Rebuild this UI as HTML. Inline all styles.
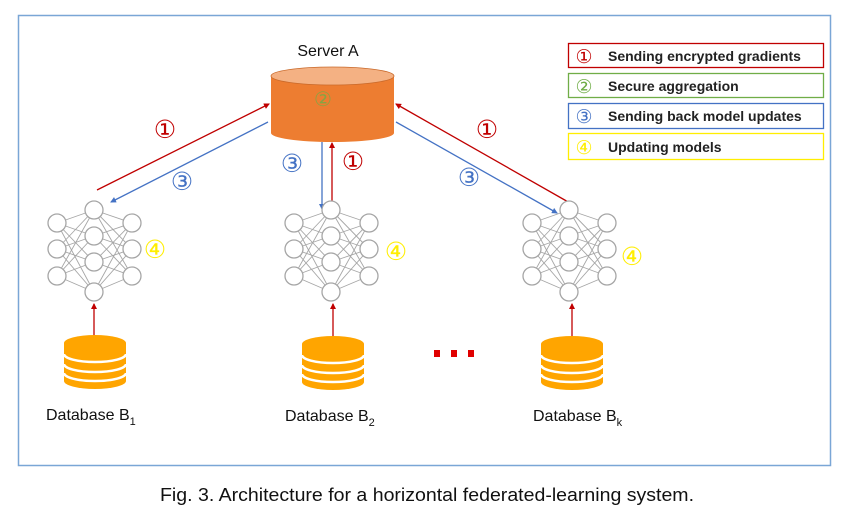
<!DOCTYPE html>
<html><head><meta charset="utf-8"><style>
html,body{margin:0;padding:0;background:#fff;}
svg{display:block;}
text{font-family:"Liberation Sans","DejaVu Sans",sans-serif;}
</style></head><body>
<svg width="849" height="509" viewBox="0 0 849 509" xmlns="http://www.w3.org/2000/svg">
<defs>
<marker id="ar" markerWidth="6" markerHeight="6" refX="5" refY="3" orient="auto" markerUnits="userSpaceOnUse"><path d="M0,0 L6,3 L0,6 z" fill="#c00000"/></marker>
<marker id="ab" markerWidth="6" markerHeight="6" refX="5" refY="3" orient="auto" markerUnits="userSpaceOnUse"><path d="M0,0 L6,3 L0,6 z" fill="#4472c4"/></marker>
<g id="net" stroke="#a6a6a6" stroke-width="1.3" fill="none">
<g stroke-width="0.9">
<path d="M-37,-36 L0,-49 M-37,-36 L0,-23 M-37,-36 L0,3 M-37,-36 L0,33
M-37,-10 L0,-49 M-37,-10 L0,-23 M-37,-10 L0,3 M-37,-10 L0,33
M-37,17 L0,-49 M-37,17 L0,-23 M-37,17 L0,3 M-37,17 L0,33
M38,-36 L0,-49 M38,-36 L0,-23 M38,-36 L0,3 M38,-36 L0,33
M38,-10 L0,-49 M38,-10 L0,-23 M38,-10 L0,3 M38,-10 L0,33
M38,17 L0,-49 M38,17 L0,-23 M38,17 L0,3 M38,17 L0,33"/>
</g>
<g fill="#fff">
<circle cx="0" cy="-49" r="9"/><circle cx="0" cy="-23" r="9"/><circle cx="0" cy="3" r="9"/><circle cx="0" cy="33" r="9"/>
<circle cx="-37" cy="-36" r="9"/><circle cx="-37" cy="-10" r="9"/><circle cx="-37" cy="17" r="9"/>
<circle cx="38" cy="-36" r="9"/><circle cx="38" cy="-10" r="9"/><circle cx="38" cy="17" r="9"/>
</g>
</g>
<g id="db">
<path d="M-31,-22 L-31,16 A31,8 0 0 0 31,16 L31,-22 z" fill="#ffa500"/>
<ellipse cx="0" cy="-22" rx="31" ry="8" fill="#ffa500"/>
<path d="M-31,-11 A31,8 0 0 0 31,-11 M-31,-1 A31,8 0 0 0 31,-1 M-31,8 A31,8 0 0 0 31,8" stroke="#fff" stroke-width="2.5" fill="none"/>
</g>
</defs>
<rect x="18.5" y="15.5" width="812" height="450" fill="none" stroke="#7aa6d6" stroke-width="1.5"/>

<text x="328" y="56" font-size="16" text-anchor="middle" fill="#111">Server A</text>
<path d="M271,76 L271,133 A61.5,9 0 0 0 394,133 L394,76 z" fill="#ed7d31"/>
<ellipse cx="332.5" cy="76" rx="61.5" ry="9" fill="#f4b183" stroke="#c9692a" stroke-width="0.8"/>
<text x="323" y="106" font-size="20" text-anchor="middle" fill="#70ad47" opacity="0.8">②</text>

<line x1="97" y1="190" x2="269" y2="104" stroke="#c00000" stroke-width="1.3" marker-end="url(#ar)"/>
<line x1="268" y1="122" x2="111" y2="202" stroke="#4472c4" stroke-width="1.3" marker-end="url(#ab)"/>
<line x1="322" y1="142" x2="322" y2="209" stroke="#4472c4" stroke-width="1.3" marker-end="url(#ab)"/>
<line x1="332" y1="207" x2="332" y2="143" stroke="#c00000" stroke-width="1.3" marker-end="url(#ar)"/>
<line x1="570" y1="203" x2="396" y2="104" stroke="#c00000" stroke-width="1.3" marker-end="url(#ar)"/>
<line x1="396" y1="122" x2="557" y2="213" stroke="#4472c4" stroke-width="1.3" marker-end="url(#ab)"/>
<line x1="94" y1="340" x2="94" y2="304" stroke="#c00000" stroke-width="1.3" marker-end="url(#ar)"/>
<line x1="333" y1="340" x2="333" y2="304" stroke="#c00000" stroke-width="1.3" marker-end="url(#ar)"/>
<line x1="572" y1="340" x2="572" y2="304" stroke="#c00000" stroke-width="1.3" marker-end="url(#ar)"/>

<g font-size="25" text-anchor="middle">
<text x="165" y="138" fill="#c00000">①</text>
<text x="182" y="190" fill="#4472c4">③</text>
<text x="292" y="172" fill="#4472c4">③</text>
<text x="353" y="170" fill="#c00000">①</text>
<text x="487" y="138" fill="#c00000">①</text>
<text x="469" y="186" fill="#4472c4">③</text>
<text x="155" y="258" fill="#ffee00">④</text>
<text x="396" y="260" fill="#ffee00">④</text>
<text x="632" y="265" fill="#ffee00">④</text>
</g>

<use href="#net" x="94" y="259"/>
<use href="#net" x="331" y="259"/>
<use href="#net" x="569" y="259"/>

<use href="#db" x="95" y="365"/>
<use href="#db" x="333" y="366"/>
<use href="#db" x="572" y="366"/>

<g fill="#e00000"><rect x="434" y="350" width="6" height="7"/><rect x="451" y="350" width="6" height="7"/><rect x="468" y="350" width="6" height="7"/></g>

<g font-size="16" fill="#111">
<text x="46" y="420">Database B<tspan font-size="11" dy="5">1</tspan></text>
<text x="285" y="421">Database B<tspan font-size="11" dy="5">2</tspan></text>
<text x="533" y="421">Database B<tspan font-size="11" dy="5">k</tspan></text>
</g>

<rect x="568.5" y="43.5" width="255" height="24" fill="none" stroke="#c00000" stroke-width="1.3"/>
<rect x="568.5" y="73.5" width="255" height="24" fill="none" stroke="#70ad47" stroke-width="1.3"/>
<rect x="568.5" y="103.5" width="255" height="25" fill="none" stroke="#4472c4" stroke-width="1.3"/>
<rect x="568.5" y="133.5" width="255" height="26" fill="none" stroke="#ffee00" stroke-width="1.3"/>
<g font-size="19">
<text x="584" y="63" text-anchor="middle" fill="#c00000">①</text>
<text x="584" y="93" text-anchor="middle" fill="#70ad47">②</text>
<text x="584" y="123" text-anchor="middle" fill="#4472c4">③</text>
<text x="584" y="154" text-anchor="middle" fill="#ffee00">④</text>
</g>
<g font-size="14" font-weight="bold" fill="#222">
<text x="608" y="61">Sending encrypted gradients</text>
<text x="608" y="91">Secure aggregation</text>
<text x="608" y="121">Sending back model updates</text>
<text x="608" y="152">Updating models</text>
</g>

<text x="160" y="501" font-size="18" fill="#111" textLength="534" lengthAdjust="spacingAndGlyphs" style="font-family:'Liberation Sans Narrow','Liberation Sans',sans-serif">Fig. 3.  Architecture for a horizontal federated-learning system.</text>
</svg>
</body></html>
